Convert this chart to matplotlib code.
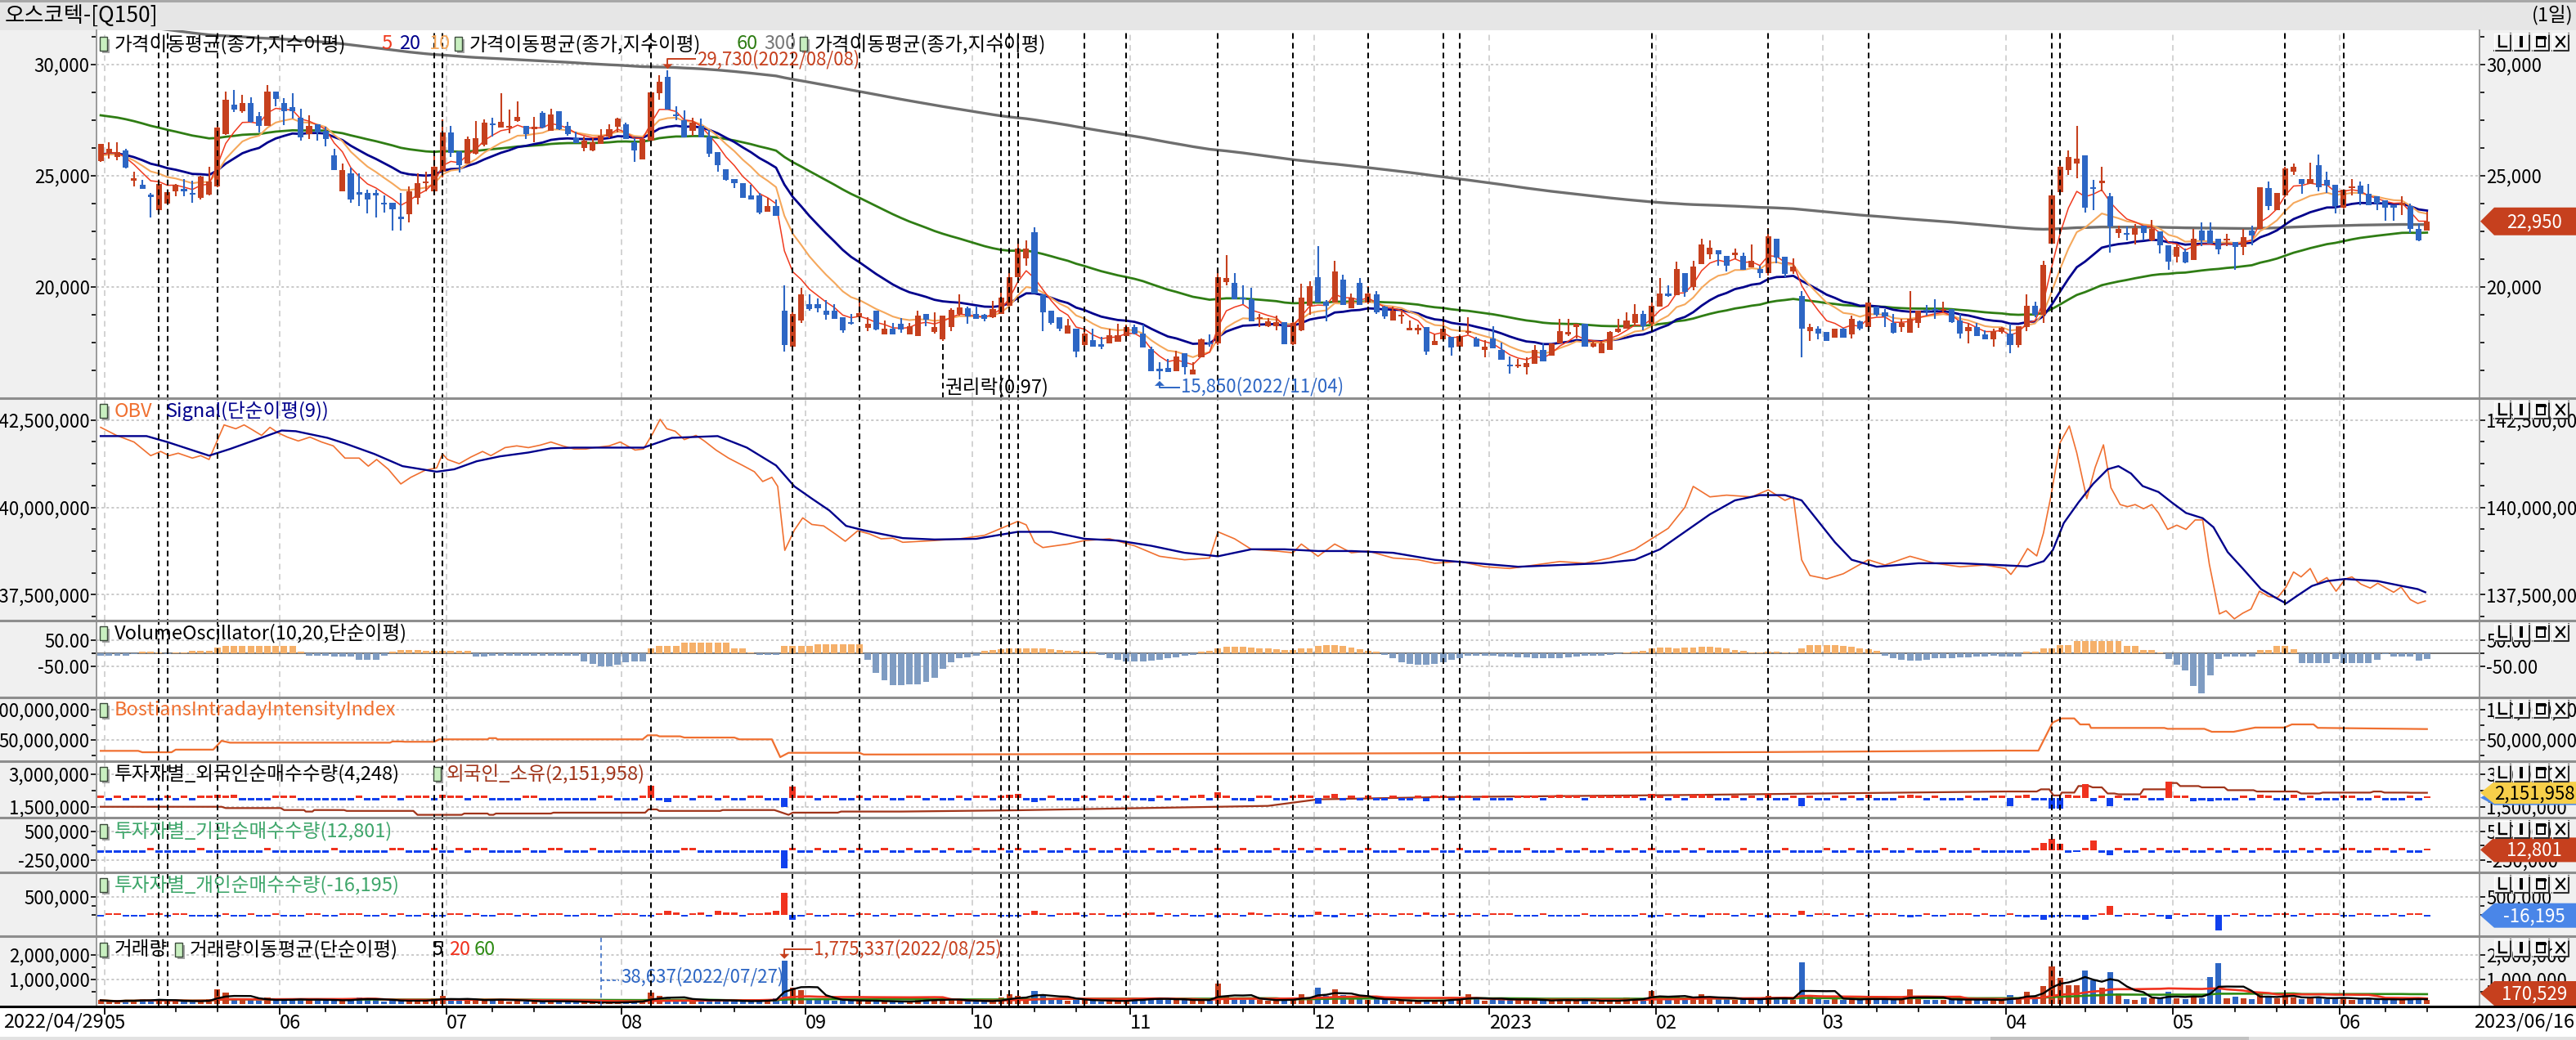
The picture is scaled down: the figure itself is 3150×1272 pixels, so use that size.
import numpy as np
import pandas as pd
import matplotlib
matplotlib.use('Agg')
import matplotlib.pyplot as plt
from matplotlib.patches import Polygon, Rectangle

plt.rcParams['font.family'] = ['Noto Sans CJK KR', 'DejaVu Sans']
plt.rcParams['lines.scale_dashes'] = False
plt.rcParams['axes.unicode_minus'] = False

# ---------------- calendar ----------------
HOLIDAYS = ['2022-05-05', '2022-06-01', '2022-06-06', '2022-08-15', '2022-09-09', '2022-09-12',
            '2022-10-03', '2022-10-10', '2022-12-30', '2023-01-23', '2023-01-24', '2023-03-01',
            '2023-05-01', '2023-05-05', '2023-05-29', '2023-06-06']
dates = pd.bdate_range('2022-04-29', '2023-06-16')
dates = dates[~dates.isin(pd.to_datetime(HOLIDAYS))]

# ---------------- price data (KRW) ----------------
opens = [
    25650, 26030, 25850, 26150, 24780, 24610, 24170, 23450, 23740, 24310,
    24400, 24220, 24010, 24150, 24530, 26890, 28210, 27890, 28260, 27670,
    27260, 28780, 28260, 28090, 27600, 26890, 27320, 27010, 25910, 24310,
    25110, 24230, 24220, 24220, 23790, 23800, 23120, 23270, 24010, 24680,
    24310, 25170, 26950, 26090, 25540, 26010, 26400, 27350, 27160, 27200,
    27480, 27260, 27130, 27840, 27030, 27890, 27230, 26700, 26250, 26150,
    26420, 26770, 27200, 27320, 26520, 25720, 26580, 28730, 29460, 27750,
    27500, 27030, 27230, 26770, 26050, 25290, 24860, 24660, 24100, 24100,
    23400, 23640, 18920, 17330, 18490, 19230, 19230, 18920, 18920, 18650,
    18410, 18650, 18160, 18920, 17880, 18120, 18330, 17880, 17790, 18770,
    17970, 17640, 18210, 18800, 19040, 18800, 18740, 18650, 18800, 19170,
    20450, 21280, 22480, 19660, 18920, 18650, 17920, 18120, 17390, 17600,
    17390, 17480, 17550, 17790, 18210, 17920, 17200, 16290, 16350, 16230,
    17020, 16080, 16840, 17480, 17450, 20210, 20170, 19530, 19440, 18560,
    18250, 18250, 18410, 17430, 18060, 19170, 20450, 19350, 19290, 20330,
    19040, 20170, 19290, 19660, 19110, 18490, 18700, 18090, 18090, 18210,
    17390, 17630, 17760, 17330, 17940, 17700, 17180, 17670, 17180, 16500,
    16450, 16410, 16530, 17180, 16900, 17450, 17850, 18210, 18330, 17330,
    17020, 17180, 17970, 18120, 18400, 18770, 18330, 19110, 19720, 19630,
    20610, 20000, 21030, 21470, 21640, 21400, 21430, 21400, 20880, 20820,
    20630, 22170, 21350, 20700, 19600, 18000, 18120, 17970, 17730, 18120,
    17850, 18460, 18210, 19110, 18860, 18370, 18210, 17940, 18400, 18950,
    18990, 18950, 18990, 18490, 18000, 18210, 17850, 17640, 17970, 17920,
    17390, 18210, 19140, 18740, 21960, 24250, 25270, 25560, 25910, 24500,
    24710, 24070, 22410, 22410, 22350, 22750, 22110, 22500, 21860, 21370,
    21590, 21230, 22540, 22540, 22170, 22110, 22010, 21800, 22540, 22600,
    24440, 23450, 24130, 25200, 24860, 24620, 25480, 24800, 24590, 23580,
    24460, 24560, 24190, 24070, 23880, 23640, 23680, 23640, 22620, 22540]
highs = [
    26450, 26520, 26520, 26200, 25170, 24830, 24220, 24720, 24310, 24620,
    24870, 24770, 24990, 25420, 27200, 28790, 28870, 28630, 28540, 27870,
    29090, 28780, 28480, 28700, 28010, 27720, 27330, 27200, 26210, 25540,
    25360, 25110, 24380, 24380, 24130, 23800, 24220, 24540, 25110, 25170,
    25910, 27520, 27230, 26090, 26770, 27480, 27520, 27600, 28700, 27970,
    28330, 27260, 27660, 27890, 28030, 27890, 27440, 26990, 26770, 26700,
    27110, 27320, 27600, 27380, 26700, 26650, 28790, 29520, 29730, 28110,
    27930, 27620, 27560, 27070, 26050, 25290, 24860, 24660, 24580, 24220,
    24010, 23920, 20090, 18920, 19960, 19660, 19470, 19410, 19230, 18650,
    18800, 19410, 18650, 18920, 18490, 18370, 18610, 18370, 18950, 18770,
    18850, 18700, 19040, 19680, 19110, 19170, 18800, 19390, 19800, 20660,
    22170, 22080, 22700, 19660, 18920, 18650, 18570, 18120, 18000, 18120,
    17760, 18120, 18330, 18310, 18310, 18310, 17330, 16620, 16780, 17150,
    17020, 16620, 17700, 17850, 20820, 21430, 20610, 20090, 19960, 18800,
    18620, 18700, 18410, 18410, 20150, 20270, 21850, 19410, 21190, 20540,
    19720, 20390, 20030, 19810, 19140, 19110, 18960, 18490, 18310, 18210,
    17880, 18490, 17760, 17880, 18650, 17760, 17600, 18240, 17510, 16870,
    16780, 16840, 17390, 17450, 17450, 18550, 18550, 18330, 18330, 17600,
    17570, 18000, 18570, 18860, 19230, 18920, 19320, 20390, 20090, 21130,
    20610, 21190, 22170, 22080, 21640, 21400, 21720, 21560, 21930, 20940,
    22660, 22170, 21350, 21280, 19800, 18330, 18250, 17970, 18120, 18180,
    18710, 18490, 19290, 19110, 19020, 18770, 18560, 19810, 18920, 19190,
    19440, 19350, 18990, 18800, 18370, 18400, 18060, 18120, 18210, 18330,
    18250, 19680, 19350, 21190, 24150, 25540, 26150, 27250, 25910, 24830,
    25390, 24220, 22750, 22720, 22840, 22750, 23030, 22500, 21860, 21930,
    21740, 22600, 22900, 22900, 22170, 22380, 22010, 22600, 22750, 24500,
    24740, 24220, 25420, 25540, 24860, 25600, 25970, 25170, 24590, 24370,
    24860, 24740, 24620, 24070, 23880, 23640, 24070, 23760, 22870, 23400]
lows = [
    25620, 25780, 25690, 25330, 24540, 24400, 23140, 23300, 23700, 24090,
    24090, 23800, 23950, 24130, 24500, 26830, 27870, 27840, 27380, 26950,
    27230, 28140, 27280, 27560, 26580, 26670, 26580, 26340, 25270, 24300,
    23800, 23640, 23310, 23110, 23360, 22540, 22540, 22900, 23700, 24310,
    24130, 24930, 25850, 25150, 25540, 25970, 26340, 26770, 27160, 26910,
    27440, 26670, 26520, 27130, 27030, 27070, 26790, 26460, 26090, 26090,
    26420, 26700, 26950, 26640, 25640, 25720, 26520, 28420, 27990, 27500,
    26740, 26790, 26740, 25850, 25200, 24780, 24460, 24010, 23950, 23270,
    23400, 23210, 17110, 17330, 18370, 18920, 18860, 18530, 18560, 17940,
    18310, 18560, 18000, 18060, 17880, 17880, 17940, 17880, 17790, 18250,
    17920, 17570, 18000, 18700, 18330, 18560, 18450, 18620, 18800, 19170,
    20450, 20940, 19720, 18000, 18300, 18000, 17920, 16840, 17330, 17330,
    17200, 17480, 17550, 17790, 17850, 17270, 16230, 15850, 16160, 16230,
    16070, 16080, 16840, 17330, 17390, 20090, 19440, 19230, 18460, 18190,
    18190, 18060, 17430, 17390, 18000, 18740, 19290, 18460, 19290, 19190,
    19040, 19190, 19230, 18800, 18560, 18490, 18350, 18060, 17850, 16960,
    17390, 17630, 16900, 17200, 17880, 17330, 16840, 17230, 16740, 16100,
    16350, 16080, 16530, 16650, 16900, 17450, 17800, 17700, 17330, 17270,
    17020, 17180, 17940, 18120, 18310, 18060, 18250, 19110, 19560, 19630,
    19560, 19840, 21030, 21250, 20940, 20700, 21250, 20780, 20880, 20420,
    20510, 21070, 20450, 20580, 16840, 17570, 17640, 17570, 17730, 17730,
    17700, 18060, 18210, 18680, 18190, 17900, 17970, 17940, 18150, 18700,
    18560, 18860, 18370, 17700, 17450, 17790, 17640, 17330, 17920, 17020,
    17270, 18000, 18650, 18370, 21960, 24130, 25050, 24900, 23330, 23450,
    24310, 21560, 22210, 22110, 21930, 22110, 22050, 21490, 20790, 21100,
    21070, 21230, 21840, 21960, 21470, 21840, 20790, 21440, 21860, 22600,
    23450, 23450, 24050, 25050, 24190, 24620, 24310, 24220, 23310, 23520,
    24100, 23680, 23680, 23460, 22990, 22990, 23220, 22410, 22050, 22540]
closes = [
    26420, 26210, 26050, 25360, 24890, 24400, 24050, 24650, 24250, 24590,
    24310, 24170, 24950, 24740, 27170, 28420, 27990, 28260, 27440, 27230,
    28780, 28440, 27900, 27900, 26740, 27260, 26950, 26670, 25270, 25270,
    23950, 24190, 23950, 24100, 23700, 23490, 23090, 24290, 24680, 24740,
    25420, 26950, 26030, 25480, 26640, 26700, 27380, 27290, 27440, 27240,
    27630, 26890, 27170, 27160, 27740, 27110, 26890, 26460, 26580, 26520,
    26790, 27110, 27560, 26670, 26150, 26640, 28750, 29220, 27990, 27710,
    26740, 27380, 26740, 26010, 25480, 24800, 24680, 24010, 23950, 23330,
    23640, 23210, 17390, 18800, 19660, 19020, 19040, 18740, 18580, 18060,
    18370, 18820, 18330, 18090, 18120, 17880, 18090, 18250, 18700, 18530,
    18190, 18700, 18980, 19070, 18680, 18580, 18560, 19020, 19510, 20450,
    21720, 21720, 19720, 18860, 18400, 18120, 18280, 17110, 17920, 17330,
    17350, 17820, 17820, 18210, 17920, 17270, 16230, 16250, 16160, 16870,
    16410, 16290, 17640, 17430, 20450, 20390, 19440, 19440, 18460, 18620,
    18460, 18410, 17430, 18370, 19510, 20030, 19290, 19140, 20700, 19190,
    19510, 19190, 19720, 18860, 18680, 18950, 18740, 18120, 18120, 17110,
    17570, 18120, 17270, 17790, 18000, 17330, 17300, 17230, 16740, 16450,
    16500, 16590, 17180, 16650, 17450, 18000, 17970, 18330, 17330, 17450,
    17450, 17970, 18120, 18490, 18770, 18250, 19140, 19720, 19600, 20820,
    19780, 20910, 21930, 21770, 21470, 20940, 21560, 20780, 21190, 20630,
    22290, 21310, 20580, 20910, 18120, 18210, 17920, 17570, 18120, 17730,
    18560, 18120, 19290, 18740, 18680, 17940, 18400, 18560, 18920, 18920,
    18950, 18990, 18430, 17920, 18190, 17790, 17640, 18000, 18170, 17390,
    18250, 19140, 18740, 20980, 24110, 25390, 25850, 25790, 23580, 24410,
    24740, 22720, 22600, 22350, 22660, 22410, 22600, 21880, 21150, 21800,
    21100, 22170, 22110, 21960, 21680, 22170, 21800, 22230, 22330, 24500,
    23640, 24220, 25320, 25390, 24620, 24860, 24500, 24560, 23640, 24370,
    24500, 24190, 23680, 23750, 23580, 23600, 23800, 22600, 22110, 22950]

# EMA seed values read at the first bar
ema_seeds = {5: 25950, 10: 25900, 20: 25970, 60: 27720, 300: 31930}

# ---------------- volume (thousand shares) ----------------
volume_k = [
    150, 110, 90, 180, 130, 210, 140, 200, 130, 100,
    90, 110, 160, 190, 600, 470, 230, 150, 180, 140,
    260, 120, 150, 200, 210, 200, 130, 120, 170, 150,
    220, 270, 200, 150, 110, 130, 140, 150, 160, 110,
    250, 320, 180, 140, 150, 170, 160, 210, 190, 110,
    120, 100, 110, 120, 130, 110, 90, 80, 60, 50,
    38.637, 70, 90, 100, 110, 130, 470, 320, 260, 150,
    170, 130, 200, 150, 140, 130, 100, 120, 110, 150,
    180, 250, 1775.337, 655, 578, 210, 200, 150, 140, 170,
    120, 150, 110, 130, 100, 90, 100, 90, 170, 267,
    160, 150, 170, 150, 120, 100, 90, 140, 267, 400,
    320, 200, 545, 378, 250, 180, 140, 200, 160, 130,
    110, 120, 130, 150, 267, 180, 250, 200, 160, 180,
    170, 120, 200, 150, 822, 320, 267, 180, 220, 150,
    130, 120, 200, 250, 400, 267, 655, 320, 600, 355,
    210, 267, 180, 200, 150, 140, 120, 110, 100, 180,
    130, 150, 267, 180, 400, 200, 130, 180, 200, 267,
    150, 130, 160, 140, 150, 200, 150, 130, 180, 110,
    100, 150, 130, 267, 230, 200, 545, 320, 200, 300,
    267, 250, 400, 230, 200, 220, 170, 200, 230, 160,
    320, 250, 200, 180, 1710, 320, 230, 180, 200, 180,
    230, 150, 250, 200, 180, 170, 150, 600, 250, 180,
    170, 150, 200, 220, 170, 150, 140, 200, 150, 380,
    280, 500, 300, 730, 1530, 1070, 770, 770, 1370, 970,
    670, 1300, 450, 200, 180, 280, 230, 280, 500, 230,
    200, 330, 230, 1100, 1660, 250, 310, 230, 200, 500,
    270, 230, 380, 280, 200, 230, 300, 200, 280, 250,
    170, 200, 220, 180, 200, 160, 170, 260, 220, 170.529]

# ---------------- OBV / Signal (million, read vertices) ----------------
obv_x = [0, 1.9, 4, 6, 7.2, 8.2, 9.3, 11, 12, 13, 14.8, 16.2, 17.2, 18.2, 19.3, 20.3, 21.3, 22.4, 23.7, 25.1,
         26.5, 27.9, 29.3, 31, 32.1, 33.1, 34.5, 36, 37.2, 38.9, 40.3, 41, 41.6, 43, 44.4, 45.8, 46.8, 48.5, 49.9, 51.3,
         52.7, 54, 55.4, 56.8, 58.2, 59.2, 61, 62.3, 64.1, 65.1, 66.2, 67.1, 67.9, 68.9, 70, 71.4, 72.4, 73.8, 75.3, 77,
         78.4, 79.4, 80.5, 81.2, 82.05, 83.2, 84.2, 85.3, 86.7, 88.1, 89.3, 90.8, 92.2, 93.6, 95, 96.2,
         100, 103, 106, 108, 110, 111, 112, 113, 116, 118, 121, 124, 127, 130, 133, 134, 136, 138, 141, 143,
         144, 146, 148, 150, 152, 155, 158, 160, 163, 166, 169, 172, 175, 178, 181, 184, 186, 188, 190, 191,
         193, 195, 198, 200, 202, 203, 204, 205, 207, 209, 212, 214, 217, 220, 223, 226,
         228.44, 229.1, 230.0, 231.1, 232.2, 233.0, 233.9, 235.0, 236.1, 237.0, 238.2, 239.2, 240.2, 241.1, 242.2,
         243.1, 244.0, 245.0, 246.0, 246.8, 247.9, 249.0, 250.1, 251.2, 252.1, 252.9, 254.1, 254.9, 255.9, 256.9,
         257.9, 258.9, 260.0, 261.1, 262.1, 263.0, 263.9, 265.0, 265.9, 267.0, 268.1, 269.2, 270.0, 271.1, 272.2,
         273.1, 274.1, 275.0, 275.9, 277.0, 277.9, 278.8]
obv_m = [142.29, 142.06, 141.87, 141.48, 141.6, 141.48, 141.55, 141.41, 141.48, 141.37, 142.36, 142.25, 142.36, 142.22,
         142.06, 142.29, 142.13, 142.01, 141.90, 142.01, 141.87, 141.76, 141.41, 141.41, 141.18, 141.37, 141.09, 140.67,
         140.86, 141.06, 141.13, 141.53, 141.37, 141.25, 141.44, 141.6, 141.48, 141.71, 141.76, 141.71, 141.78, 141.87,
         141.76, 141.67, 141.67, 141.71, 141.76, 141.87, 141.64, 141.67, 142.11, 142.52, 142.25, 142.18, 141.94, 142.06,
         141.90, 141.64, 141.41, 141.20, 141.02, 140.74, 140.86, 140.60, 138.77, 139.35, 139.70, 139.51, 139.47, 139.24,
         139.03, 139.33, 139.24, 139.10, 139.12, 139.0,
         139.05, 139.1, 139.2, 139.4, 139.6, 139.5, 139.0, 138.85, 138.95, 139.05, 139.1, 138.9, 138.6, 138.5, 138.55,
         139.3, 139.1, 138.8, 138.75, 138.7, 138.95, 138.6, 138.95, 138.7, 138.75, 138.55, 138.5, 138.4, 138.45, 138.3,
         138.25, 138.35, 138.45, 138.4, 138.55, 138.8, 139.1, 139.4, 140.0, 140.6, 140.3, 140.35, 140.3, 140.5, 140.2,
         140.3, 138.5, 138.05, 137.95, 138.1, 138.5, 138.35, 138.6, 138.4, 138.3, 138.35,
         138.25, 138.08, 138.37, 138.82, 138.61, 139.26, 140.32, 141.85, 142.33, 141.56, 140.25, 141.14, 141.79, 140.56,
         140.08, 140.02, 140.08, 139.96, 140.08, 139.84, 139.37, 139.49, 139.37, 139.64, 139.64, 138.37, 136.95, 137.04,
         136.81, 136.97, 137.09, 137.60, 137.45, 137.42, 137.72, 138.15, 138.01, 138.25, 137.83, 137.99, 137.60, 137.95,
         138.01, 137.80, 137.69, 137.83, 137.69, 137.57, 137.72, 137.36, 137.25, 137.32]
sig_x = [0, 5.5, 8, 13, 15.5, 18.2, 21.7, 23.4, 27.2, 29.3, 32.8, 36.2, 40.3, 42.4, 45.1, 47.9, 51.3, 54, 56.8, 65.1,
         68.5, 74, 77.5, 81, 83.2, 85.3, 87.4, 89.4, 91.4, 93.6, 96.2,
         100, 105, 110, 114, 118, 122, 126, 130, 134, 138, 142, 146, 150, 155, 160, 165, 170, 175, 180, 184,
         187, 190, 193, 196, 199, 202, 204, 206, 208, 210, 213, 218, 223,
         228.44, 231.07, 233.04, 234.13, 235.44, 237.2, 238.95, 240.7, 242.0, 243.5, 244.9, 246.8, 248.4, 250.1,
         252.1, 253.4, 255.1, 256.9, 259.1, 260.8, 262.1, 263.5, 265.2, 267.0, 269.2, 273.1, 276.2, 277.9, 278.8]
sig_m = [142.04, 142.04, 141.87, 141.48, 141.67, 141.90, 142.20, 142.18, 141.99, 141.83, 141.53, 141.18, 141.02,
         141.09, 141.32, 141.46, 141.57, 141.69, 141.71, 141.71, 141.99, 142.04, 141.71, 141.2, 140.60, 140.25,
         139.91, 139.47, 139.35, 139.24, 139.12,
         139.08, 139.1, 139.3, 139.3, 139.1, 139.05, 138.9, 138.7, 138.6, 138.8, 138.8, 138.75, 138.75, 138.7, 138.5,
         138.4, 138.3, 138.35, 138.4, 138.5, 138.8, 139.3, 139.8, 140.2, 140.35, 140.35, 140.2, 139.6, 139.0, 138.5,
         138.3, 138.4, 138.4,
         138.34, 138.31, 138.46, 138.78, 139.55, 140.14, 140.67, 141.09, 141.18, 140.97, 140.61, 140.44, 140.14,
         139.84, 139.69, 139.43, 138.72, 138.25, 137.66, 137.42, 137.25, 137.48, 137.75, 137.89, 137.95, 137.89,
         137.74, 137.66, 137.57]

# ---------------- Volume oscillator (%) ----------------
vol_osc = [
    -8, -8, -8, -8, -3, 7, 7, 2, -2, 2,
    2, 9, 9, 9, 23, 28, 28, 28, 29, 29,
    28, 28, 28, 27, 7, -8, -8, -8, -13, -13,
    -13, -26, -26, -26, -8, 6, 14, 14, 14, 8,
    8, 8, 8, 8, 8, -13, -13, -10, -10, -10,
    -10, -10, -10, -10, -10, -10, -10, -10, -30, -40,
    -50, -50, -45, -35, -32, -32, 18, 28, 28, 28,
    40, 40, 40, 40, 40, 40, 18, 18, 2, -5,
    -5, -5, 28, 28, 28, 28, 33, 33, 33, 33,
    33, 33, -26, -76, -102, -123, -123, -120, -120, -110,
    -95, -60, -35, -20, -15, -10, 8, 12, 15, 18,
    20, 20, 20, 18, 15, 12, 10, 8, 5, 5,
    -5, -20, -25, -30, -30, -30, -28, -25, -20, -15,
    -10, -5, 5, 8, 20, 25, 25, 25, 22, 20,
    18, 15, 12, 14, 18, 20, 28, 30, 30, 28,
    22, 15, 10, 5, -5, -20, -35, -40, -45, -45,
    -40, -35, -25, -20, -10, -8, -8, -10, -12, -12,
    -15, -15, -18, -20, -20, -18, -15, -12, -10, -8,
    -8, -6, -4, 2, 6, 10, 20, 22, 22, 20,
    22, 22, 25, 25, 22, 18, 12, 8, 4, 2,
    6, 6, 4, 2, 20, 30, 32, 32, 30, 28,
    25, 20, 15, 8, -8, -20, -25, -28, -28, -25,
    -20, -20, -18, -15, -15, -12, -12, -10, -13, -13,
    -13, 6, 6, 19, 19, 32, 32, 48, 48, 48,
    48, 48, 48, 27, 27, 11, 11, 2, -21, -45,
    -65, -125, -153, -85, -21, -13, -13, -13, -13, 14,
    14, 27, 27, 16, -37, -37, -37, -37, -21, -37,
    -37, -37, -37, -26, -3, -13, -13, -13, -29, -22]

# ---------------- Bostian intraday intensity (million, vertices) ----------------
bii_x = [0, 4.5, 5, 8.5, 9, 13.5, 14.5, 15.5, 34.7, 35, 36, 36.5, 40, 40.6, 46.4, 46.6, 47.4, 47.6, 65, 65.6,
         66.7, 67, 69.5, 70, 76, 76.6, 80.5, 81.5, 82.5, 91, 91.5, 96, 130, 170, 200, 228.4, 232.4, 234.1, 235.2, 236.7,
         237.4, 238.5, 238.7, 247.5, 247.9, 252.3, 253.2, 255.8, 258.4, 261.9, 262.8, 265.4, 265.9, 279]
bii_m = [32, 32, 29.7, 29.7, 34, 34, 48.6, 45.5, 45.5, 47.5, 47.5, 47, 47, 51, 51, 53, 53, 51, 51, 57.7,
         57.7, 56, 56, 54, 54, 51, 51, 21.6, 28.8, 28.8, 26, 26, 27, 28.5, 30, 32.4, 32.4, 78.8, 85.6, 85.6,
         75.7, 75.7, 69.9, 69.9, 68.4, 68.4, 63.5, 63.5, 70.5, 70.5, 75.7, 75.7, 70, 68]

# ---------------- investors (thousand shares) ----------------
foreign_net_k = [
    36, -36, 36, -36, 36, 36, -36, -36, 36, -36,
    36, -36, 36, 36, 48, 36, 48, -36, -36, -36,
    -36, 36, 36, 36, -36, -36, -36, -36, -36, -36,
    -36, 36, -36, -36, 36, 36, -36, 36, 36, 36,
    -36, 48, 36, 36, -36, 36, 36, -36, -36, -36,
    -36, 36, 36, -36, -36, -36, -36, -36, -36, -36,
    36, 36, -36, -36, -36, 36, 180, -36, -60, 36,
    36, -36, 36, 36, -36, 36, -36, -36, 36, 36,
    -36, -36, -130, 170, 36, 36, -36, 36, 36, -36,
    -36, 36, -36, 36, 36, -36, -36, 36, 36, -36,
    36, -36, -36, 36, -36, 36, 36, -36, 36, 48,
    60, -36, -60, -36, 36, -36, -36, -48, 36, -36,
    36, 36, -36, 36, -36, -36, -48, 36, -36, 36,
    -36, 36, 48, -36, 84, 36, -36, -36, -48, 36,
    36, -36, -36, 36, 48, 36, -84, 36, 60, -36,
    36, -36, 36, -36, -36, 36, -36, -36, 36, -48,
    36, 36, -36, 36, 36, -36, 36, -36, -36, -36,
    36, 36, 36, -36, 36, 48, 36, 36, -36, 36,
    36, 36, 36, 36, 36, -36, 60, 36, -36, 48,
    -36, 48, 60, 36, -36, -36, 36, -36, 36, -36,
    60, -36, -36, 36, -120, 36, -36, -36, 36, -36,
    36, -36, 48, -36, -36, -36, 36, 48, 36, -36,
    36, -36, -36, -36, 36, -36, -36, 36, 36, -120,
    36, 48, -36, -36, -160, -160, 48, 36, 200, -48,
    36, -120, 36, -36, -36, 36, -36, -36, 240, 36,
    36, -48, -36, -48, -36, -36, -36, 36, -36, 48,
    36, -36, -36, 48, -36, 36, -36, -36, -36, 36,
    36, -36, -36, 36, -36, -36, -36, 36, -36, 4.248]
foreign_hold = [(0, 1.51), (14.5, 1.51), (15, 1.45), (21.6, 1.45), (22, 1.36), (24.4, 1.36), (24.6, 1.29),
                (25.4, 1.29), (25.6, 1.36), (29.2, 1.36), (29.5, 1.32), (37.5, 1.32), (38, 1.14), (43.3, 1.14),
                (43.6, 1.20), (46.4, 1.20), (46.6, 1.14), (47.1, 1.14), (47.4, 1.20), (54, 1.20), (54.3, 1.24),
                (65.3, 1.24), (65.7, 1.39), (66.7, 1.39), (67, 1.32), (74.3, 1.32), (74.6, 1.36), (80.8, 1.36),
                (82.5, 1.14), (83, 1.24), (88.4, 1.24), (88.8, 1.29), (96, 1.29), (110, 1.35), (125, 1.45),
                (140, 1.55), (146, 1.85), (160, 1.95), (190, 2.05), (228.4, 2.21), (232.2, 2.21), (232.7, 2.31),
                (233.7, 2.31), (234.2, 2.03), (235, 2.03), (235.2, 2.16), (236.7, 2.16), (237.2, 2.46),
                (238.5, 2.46), (238.9, 2.40), (240, 2.40), (240.7, 2.12), (241.5, 2.12), (242, 2.08),
                (244.6, 2.08), (245, 2.31), (247.7, 2.31), (248.1, 2.60), (249, 2.60), (249.4, 2.46),
                (251.6, 2.46), (252, 2.40), (254.7, 2.40), (255.1, 2.27), (258.2, 2.27), (258.6, 2.21),
                (263.4, 2.21), (263.9, 2.12), (266.1, 2.12), (266.5, 2.16), (272.2, 2.16), (272.6, 2.21),
                (273.5, 2.21), (273.9, 2.16), (276.6, 2.16), (277, 2.151958), (279, 2.151958)]
inst_net_k = [
    -60, -60, -60, -60, -60, -60, 60, -60, -60, -60,
    -60, -60, 60, -60, -60, -60, -60, -60, -60, -60,
    60, -60, -60, -60, -60, -60, -60, -60, 60, -60,
    -60, -60, -60, -60, -60, 60, 60, -60, -60, -60,
    60, -60, -60, 60, -60, 60, 60, -60, -60, -60,
    -60, 60, -60, -60, 60, 60, -60, -60, -60, 60,
    -60, -60, -60, -60, -60, -60, -60, -60, -60, -60,
    60, 60, -60, -60, -60, -60, -60, -60, -60, -60,
    -60, -60, -465, 60, -60, -60, 60, -60, -60, 60,
    -60, 60, -60, -60, 60, -60, -60, 60, -60, -60,
    60, -60, 60, -60, -60, 60, -60, -60, 60, -60,
    60, -60, -60, 60, -60, -60, 60, -60, -60, 60,
    -60, -60, 60, -60, -60, -60, 60, -60, -60, 60,
    -60, 60, -60, -60, 60, -60, -60, 60, -60, -60,
    -60, 60, -60, -60, 60, -60, 60, -60, -60, 60,
    -60, -60, 60, -60, -60, -60, 60, -60, -60, -60,
    60, -60, -60, 60, -60, -60, -60, 60, -60, -60,
    -60, 60, -60, -60, -60, 60, -60, -60, 60, -60,
    -60, 60, -60, -60, 60, -60, 60, -60, -60, -60,
    60, -60, 60, -60, -60, -60, -60, 60, -60, -60,
    -60, -60, 60, -60, -60, -60, -60, 60, -60, -60,
    60, -60, -60, -60, 60, -60, -60, 60, -60, -60,
    -60, 60, -60, -60, -60, 60, -60, -60, -60, -60,
    -60, -60, 60, 200, 306, 176, -60, -20, 60, 263,
    -60, -128, 60, -60, -60, 60, -60, 60, -60, -60,
    60, -60, -60, 60, -60, 60, -60, 60, -60, 60,
    60, -60, -60, -60, 60, -60, 60, -60, -60, 60,
    60, -60, -60, 60, 60, -60, 60, -60, -60, 12.801]
indiv_net_k = [
    -50, 50, 50, -50, -50, -50, 50, 50, -50, 50,
    50, -50, -50, -50, -50, 50, -50, -50, 50, -50,
    -50, 50, -50, -50, -50, 50, 50, -50, -50, 50,
    50, 50, -50, -50, 50, -50, 50, -50, -50, 50,
    -50, -50, 50, 50, -50, 50, -50, -50, 50, 50,
    -50, 50, -50, 50, 50, 50, -50, -50, 50, 50,
    -50, -50, 50, 50, 50, -50, -50, 50, 113, 60,
    -50, 50, 60, -50, 113, 60, 60, -50, 50, 50,
    60, 113, 620, -136, -50, 50, -50, -50, 50, 50,
    -50, 50, 50, -50, 50, -50, 50, 50, -50, 50,
    -50, 50, -50, 50, 50, -50, 50, 50, -50, -50,
    -50, 50, 113, 50, -50, 50, 50, 60, -50, 50,
    50, -50, -50, 50, 50, 50, 60, -50, 50, -50,
    50, -50, -50, 50, -60, 50, 50, -50, 60, 50,
    -50, 50, 50, -50, -60, -50, 90, -50, -60, 50,
    -50, 50, -50, 50, 50, -50, 50, 50, -50, 60,
    -50, -50, 50, -50, -50, 50, -50, 50, 50, 50,
    -50, -50, -50, 50, -50, -50, -50, -50, 50, -50,
    -50, -50, -50, -50, -50, 50, -60, -50, 50, -50,
    50, -50, -60, 50, 50, 50, -50, 50, -50, 50,
    -60, 50, 50, -50, 120, -50, 50, 50, -50, 50,
    -50, 50, -50, 50, 50, 50, -50, -60, -50, 50,
    -50, -50, 50, 50, 50, -50, 50, -50, -50, 50,
    -50, -60, -50, -130, -80, -50, -50, -60, -130, -50,
    50, 240, -50, 50, 50, -50, 50, -50, -120, 50,
    -50, 50, 50, -50, -430, -50, 50, -50, 50, -50,
    -50, 50, 50, -50, 50, -50, 50, 50, 50, -50,
    -50, 50, 50, -50, -50, 50, -50, 50, 50, -16.195]

# ---------------- markers ----------------
event_idx = [7, 8, 14, 40, 41, 66, 83, 91, 108, 109, 110, 118, 123, 134, 143, 152, 161, 163,
             186, 200, 212, 234, 235, 262, 269]
ex_rights_idx = 101
ex_rights_label = '권리락(0.97)'
vol_peak_date = '2022/08/25'

# =====================================================================
o = np.array(opens, float); h = np.array(highs, float)
l = np.array(lows, float); c = np.array(closes, float)
N = len(c)
idx = np.arange(N)
vol = np.array(volume_k) * 1000.0
vo = np.array(vol_osc, float)
fnet = np.array(foreign_net_k) * 1000.0
inet = np.array(inst_net_k) * 1000.0
pnet = np.array(indiv_net_k) * 1000.0
fh_x = np.array([p[0] for p in foreign_hold]); fh_v = np.array([p[1] for p in foreign_hold]) * 1e6


def ema(vals, n, seed):
    a = 2.0 / (n + 1)
    out = np.empty(len(vals)); e = seed
    for i, v in enumerate(vals):
        if i > 0:
            e = e + a * (v - e)
        out[i] = e
    return out


W, H = 3150, 1272
X0, X1 = 118, 3032
XMIN, XMAX = -0.5, 285.3
RED = '#c6401e'
BLUE = '#2d66c4'
month_starts = [i for i in range(1, N) if dates[i].month != dates[i - 1].month]
fridays = [i for i in range(N) if dates[i].weekday() == 4 and 8 <= dates[i].day <= 21]

fig = plt.figure(figsize=(W / 100, H / 100), dpi=100, facecolor='#f0f0f0')


def rect_px(x0, y0, x1, y1):
    return [x0 / W, 1 - y1 / H, (x1 - x0) / W, (y1 - y0) / H]


bg = fig.add_axes([0, 0, 1, 1], zorder=0)
bg.set_xlim(0, W); bg.set_ylim(H, 0); bg.axis('off')
bg.add_patch(Rectangle((0, 0), W, 37, fc='#e6e6e6', ec='none'))
bg.add_patch(Rectangle((0, 0), W, 3, fc='#a8a8a8', ec='none'))
bg.add_patch(Rectangle((0, 1231), W, 37, fc='white', ec='none'))
bg.add_patch(Rectangle((0, 1268), W, 4, fc='#e2e2e2', ec='none'))
bg.add_patch(Rectangle((2434, 1268), 316, 4, fc='#c2c2c2', ec='none'))


def panel(y0, y1, ylim, majors, minors, fmt):
    ax = fig.add_axes(rect_px(X0, y0, X1, y1), zorder=2)
    ax.set_facecolor('white')
    ax.set_xlim(XMIN, XMAX); ax.set_ylim(*ylim)
    ax.spines['top'].set_visible(False); ax.spines['bottom'].set_visible(False)
    for s in ('left', 'right'):
        ax.spines[s].set_color('#9a9a9a'); ax.spines[s].set_linewidth(1.4)
    ax.set_xticks([])
    ax.set_yticks(majors); ax.set_yticklabels([fmt(v) for v in majors])
    ax.set_yticks(minors, minor=True)
    ax.tick_params(axis='y', which='both', left=True, right=True, labelleft=True, labelright=True,
                   direction='out', colors='black', width=1.2)
    ax.tick_params(axis='y', which='major', length=5, labelsize=16, pad=1)
    ax.tick_params(axis='y', which='minor', length=4)
    for v in majors:
        ax.axhline(v, color='#c6c6c6', lw=1.3, dashes=(2.2, 2.2), zorder=0)
    for m in month_starts:
        ax.axvline(m - 0.5, color='#d0d0d0', lw=1.3, dashes=(5, 4), zorder=0)
    return ax


fmt_int = lambda v: f'{int(round(v)):,}'
fmt_pct = lambda v: f'{v:.2f}'

pa = panel(37, 487, (15000, 31544), [20000, 25000, 30000],
           [v for v in np.arange(15000, 31544, 1250) if v % 5000 != 0], fmt_int)
oa = panel(487, 759, (136.76e6, 143.08e6), [137.5e6, 140e6, 142.5e6],
           [137.5e6 + k * 0.625e6 for k in range(-1, 10) if k % 4 != 0], fmt_int)
voa = panel(759, 853, (-168.75, 125), [-50, 50], [0], fmt_pct)
ba = panel(853, 931, (14.9e6, 120.3e6), [50e6, 100e6], [25e6, 75e6], fmt_int)
fa = panel(931, 1000, (1.0125e6, 3.6e6), [1.5e6, 3e6], [2.25e6], fmt_int)
ia = panel(1000, 1067, (-579e3, 857e3), [-250e3, 500e3], [125e3], fmt_int)
da = panel(1067, 1145, (-591e3, 1.18e6), [500e3], [250e3, 0], fmt_int)
va = panel(1145, 1230, (-66.7e3, 2.767e6), [1e6, 2e6], [0.5e6, 1.5e6], fmt_int)

# ---- price panel ----
ma_cols = {300: '#6e6e6e', 60: '#2f7d14', 20: '#00008c', 10: '#f5a85c', 5: '#f03a1e'}
ma_lw = {300: 2.4, 60: 2.0, 20: 2.0, 10: 1.5, 5: 1.1}
for n_ in (300, 60, 20, 10, 5):
    pa.plot(idx, ema(c, n_, ema_seeds[n_]), color=ma_cols[n_], lw=ma_lw[n_], zorder=2)
up = c >= o
ccol = np.where(up, RED, BLUE)
pa.vlines(idx, l, h, colors=ccol, lw=1.5, zorder=3)
minh = 2.2 * (31544 - 15000) / 450
bl = np.minimum(o, c); bh = np.abs(c - o)
small = bh < minh
bl = np.where(small, (o + c) / 2 - minh / 2, bl); bh = np.where(small, minh, bh)
pa.bar(idx, bh, bottom=bl, width=0.7, color=ccol, linewidth=0, zorder=4)
pa.plot([ex_rights_idx, ex_rights_idx], [15000, l[ex_rights_idx] - 40], color='black', lw=1.4,
        dashes=(5, 3.5), zorder=5)
pa.text(ex_rights_idx + 0.3, 15500, ex_rights_label, fontsize=17, va='center', ha='left', zorder=6)

# ---- OBV ----
oa.plot(obv_x, np.array(obv_m) * 1e6, color='#f07030', lw=1.2, zorder=3)
oa.plot(sig_x, np.array(sig_m) * 1e6, color='#00008c', lw=1.7, zorder=3)

# ---- Volume oscillator ----
voa.axhline(0, color='#6a6a6a', lw=1.3, zorder=1)
voa.bar(idx, vo, width=0.78, color=np.where(vo >= 0, '#f5b06a', '#7f9cc2'), linewidth=0, zorder=2)

# ---- Bostian ----
ba.plot(bii_x, np.array(bii_m) * 1e6, color='#f07030', lw=1.6, zorder=3)


def min_disp(v, m):
    return np.where(np.abs(v) < m, np.where(v >= 0, m, -m), v)


def bar_cols(v):
    return np.where(v >= 0, '#f0321e', '#1040ee')


# ---- Foreign ----
fa.plot(fh_x, fh_v, color='#a0341a', lw=1.6, zorder=3)
fa2 = fig.add_axes(rect_px(X0, 931, X1, 1000), zorder=2.1)
fa2.set_xlim(XMIN, XMAX); fa2.set_ylim(-288e3, 540e3); fa2.axis('off')
fa2.bar(idx, min_disp(fnet, 30e3), width=0.8, color=bar_cols(fnet), linewidth=0)

# ---- Institution / Individual ----
ia.bar(idx, min_disp(inet, 45e3), width=0.8, color=bar_cols(inet), linewidth=0, zorder=3)
da.bar(idx, min_disp(pnet, 40e3), width=0.8, color=bar_cols(pnet), linewidth=0, zorder=3)

# ---- Volume ----
va.bar(idx, vol, width=0.7, color=ccol, linewidth=0, zorder=3)
vs = pd.Series(vol)
va.plot(idx, vs.rolling(60, min_periods=1).mean(), color='#2e8b14', lw=1.9, zorder=4)
va.plot(idx, vs.rolling(20, min_periods=1).mean(), color='#f0321e', lw=1.9, zorder=4)
va.plot(idx, vs.rolling(5, min_periods=1).mean(), color='black', lw=1.7, zorder=4)
imin = int(np.argmin(vol))
va.axvline(imin, color='#2d66c4', lw=1.1, dashes=(4, 3), zorder=5)
va.plot([imin, imin + 2.2], [0.97e6, 0.97e6], color='#2d66c4', lw=1.1, dashes=(3, 2), zorder=5)
va.text(imin + 2.4, 1.1e6, f'{int(round(vol[imin])):,}({dates[imin].strftime("%Y/%m/%d")})',
        color='#2d66c4', fontsize=16, va='center', ha='left', zorder=6)

# ---- event lines across all panels ----
vx = fig.add_axes(rect_px(X0, 37, X1, 1230), zorder=4)
vx.set_xlim(XMIN, XMAX); vx.set_ylim(0, 1); vx.axis('off')
for e in event_idx:
    vx.axvline(e, color='black', lw=1.45, dashes=(5, 3.6))

# ---- x axis labels ----
xa = fig.add_axes(rect_px(X0, 1231, X1, 1268), zorder=3)
xa.set_xlim(XMIN, XMAX); xa.set_ylim(37, 0); xa.axis('off')
for m in month_starts:
    xa.plot([m - 0.5, m - 0.5], [0, 9], color='black', lw=1.3, clip_on=False)
    lab = str(dates[m].year) if dates[m].month == 1 else f'{dates[m].month:02d}'
    xa.text(m - 0.5, 20, lab, ha='left', va='center', fontsize=17, clip_on=False)
for i in fridays:
    xa.plot([i, i], [0, 6], color='black', lw=1.2, clip_on=False)

# ---- foreground overlay ----
fg = fig.add_axes([0, 0, 1, 1], zorder=6)
fg.set_xlim(0, W); fg.set_ylim(H, 0); fg.axis('off')


def to_px(ax, x, y):
    X, Y = ax.transData.transform((x, y))
    return X, H - Y


fg.text(6, 19, '오스코텍-[Q150]', fontsize=19, va='center', ha='left')
fg.text(3147, 19, '(1일)', fontsize=17, va='center', ha='right')
fg.text(4, 1250, dates[0].strftime('%Y/%m/%d'), fontsize=17, va='center', ha='left')
fg.text(3148, 1250, dates[-1].strftime('%Y/%m/%d'), fontsize=17, va='center', ha='right')

for y in (487, 759, 853, 931, 1000, 1067, 1145):
    fg.plot([0, W], [y, y], color='#8e8e8e', lw=2.2)
fg.plot([0, W], [1231, 1231], color='black', lw=2.2)


def icon(x, yc):
    fg.add_patch(Rectangle((x + 3, yc - 6), 9, 17, fc='#a4a4a4', ec='none', zorder=8))
    fg.add_patch(Rectangle((x, yc - 9), 9, 17, fc='#c8efc0', ec='#3a4a3a', lw=1.0, zorder=9))


def leg(x, yc, s, col='black', fs=17):
    fg.text(x, yc, s, color=col, fontsize=fs, va='center', ha='left', zorder=9)


icon(122, 54); leg(140, 54, '가격이동평균(종가,지수이평)')
leg(466, 54, '5', ma_cols[5]); leg(488, 54, '20', ma_cols[20]); leg(525, 54, '10', ma_cols[10])
icon(556, 54); leg(574, 54, '가격이동평균(종가,지수이평)')
leg(901, 54, '60', ma_cols[60]); leg(934, 54, '300', '#777777')
icon(978, 54); leg(996, 54, '가격이동평균(종가,지수이평)')
icon(122, 503); leg(140, 503, 'OBV', '#f07030'); leg(203, 503, 'Signal(단순이평(9))', '#00008c')
icon(122, 775); leg(140, 775, 'VolumeOscillator(10,20,단순이평)')
icon(122, 869); leg(140, 869, 'BostiansIntradayIntensityIndex', '#f07030')
f_last = int(round(fnet[-1])); fh_last = int(round(fh_v[-1]))
i_last = int(round(inet[-1])); p_last = int(round(pnet[-1])); v_last = int(round(vol[-1]))
icon(122, 947); leg(140, 947, f'투자자별_외국인순매수수량({f_last:,})')
icon(530, 947); leg(546, 947, f'외국인_소유({fh_last:,})', '#a0341a')
icon(122, 1017); leg(140, 1017, f'투자자별_기관순매수수량({i_last:,})', '#3ea66a')
icon(122, 1083); leg(140, 1083, f'투자자별_개인순매수수량({p_last:,})', '#3ea66a')
icon(122, 1162); leg(140, 1162, '거래량')
icon(214, 1162); leg(232, 1162, '거래량이동평균(단순이평)')
leg(528, 1162, '5'); leg(549, 1162, '20', '#f0321e'); leg(580, 1162, '60', '#2e8b14')

# high / low / peak volume annotations
ih = int(np.argmax(h)); hx, hy = to_px(pa, ih, h[ih])
fg.add_patch(Polygon([(hx - 6, hy - 8), (hx + 6, hy - 8), (hx, hy - 2)], fc=RED, ec='none', zorder=8))
fg.plot([hx, hx, hx + 34], [hy - 8, hy - 14, hy - 14], color=RED, lw=1.4, zorder=8)
leg(hx + 36, hy - 14, f'{int(h[ih]):,}({dates[ih].strftime("%Y/%m/%d")})', RED, 16)
il = int(np.argmin(l)); lx, ly = to_px(pa, il, l[il])
fg.add_patch(Polygon([(lx - 6, ly + 8), (lx + 6, ly + 8), (lx, ly + 2)], fc=BLUE, ec='none', zorder=8))
fg.plot([lx, lx, lx + 24], [ly + 8, ly + 10, ly + 10], color=BLUE, lw=1.4, zorder=8)
leg(lx + 26, ly + 9, f'{int(l[il]):,}({dates[il].strftime("%Y/%m/%d")})', BLUE, 16)
iv = int(np.argmax(vol)); px_, py_ = to_px(va, iv, vol[iv])
fg.add_patch(Polygon([(px_ - 6, py_ - 8), (px_ + 6, py_ - 8), (px_, py_ - 2)], fc=RED, ec='none', zorder=8))
fg.plot([px_, px_, px_ + 34], [py_ - 8, py_ - 14, py_ - 14], color=RED, lw=1.4, zorder=8)
leg(px_ + 36, py_ - 14, f'{int(round(vol[iv])):,}({vol_peak_date})', RED, 16)


# value tags on the right
def tag(ax, val, text, face, tcol, top, bot, hh=32):
    _, yc = to_px(ax, 0, val)
    yc = min(max(yc, top + hh / 2), bot - hh / 2)
    pts = [(3033, yc), (3050, yc - hh / 2), (W, yc - hh / 2), (W, yc + hh / 2), (3050, yc + hh / 2)]
    fg.add_patch(Polygon(pts, closed=True, fc=face, ec='none', zorder=8))
    fg.text(3099, yc + 1, text, color=tcol, fontsize=16, va='center', ha='center', zorder=9)


tag(pa, c[-1], f'{int(c[-1]):,}', RED, 'white', 37, 487, 34)
tag(fa2, fnet[-1], '', '#4a86e8', 'white', 931, 1000, 18)
tag(fa, fh_v[-1], f'{fh_last:,}', '#f7cf4a', 'black', 931, 1000, 27)
tag(ia, inet[-1], f'{i_last:,}', RED, 'white', 1000, 1067, 30)
tag(da, pnet[-1], f'{p_last:,}', '#4a86e8', 'white', 1067, 1145, 30)
tag(va, vol[-1], f'{v_last:,}', RED, 'white', 1145, 1230, 30)


# panel buttons
def buttons(top):
    y0 = top + 4; bhh = 21
    xs = [3050, 3073, 3097, 3121]
    for x in xs:
        fg.add_patch(Rectangle((x, y0), 20, bhh, fc='#f4f4f4', ec='none', zorder=10))
        fg.plot([x, x + 20, x + 20], [y0 + bhh, y0 + bhh, y0], color='#303030', lw=1.5, zorder=11)
        fg.plot([x, x, x + 20], [y0 + bhh, y0, y0], color='white', lw=1.0, zorder=11)
    x = xs[0]
    fg.plot([x + 6, x + 6, x + 15], [y0 + 3, y0 + 16, y0 + 16], color='black', lw=1.7, zorder=12)
    x = xs[1]
    fg.add_patch(Rectangle((x + 8, y0 + 3), 4, 14, fc='black', ec='none', zorder=12))
    x = xs[2]
    fg.add_patch(Rectangle((x + 5, y0 + 4), 10, 12, fc='none', ec='black', lw=1.4, zorder=12))
    fg.plot([x + 5, x + 15], [y0 + 5, y0 + 5], color='black', lw=2.2, zorder=12)
    x = xs[3]
    fg.plot([x + 5, x + 15], [y0 + 4, y0 + 16], color='black', lw=1.6, zorder=12)
    fg.plot([x + 15, x + 5], [y0 + 4, y0 + 16], color='black', lw=1.6, zorder=12)


for t in (37, 487, 759, 853, 931, 1000, 1067, 1145):
    buttons(t)

fig.savefig('out.png', dpi=100, facecolor=fig.get_facecolor())
